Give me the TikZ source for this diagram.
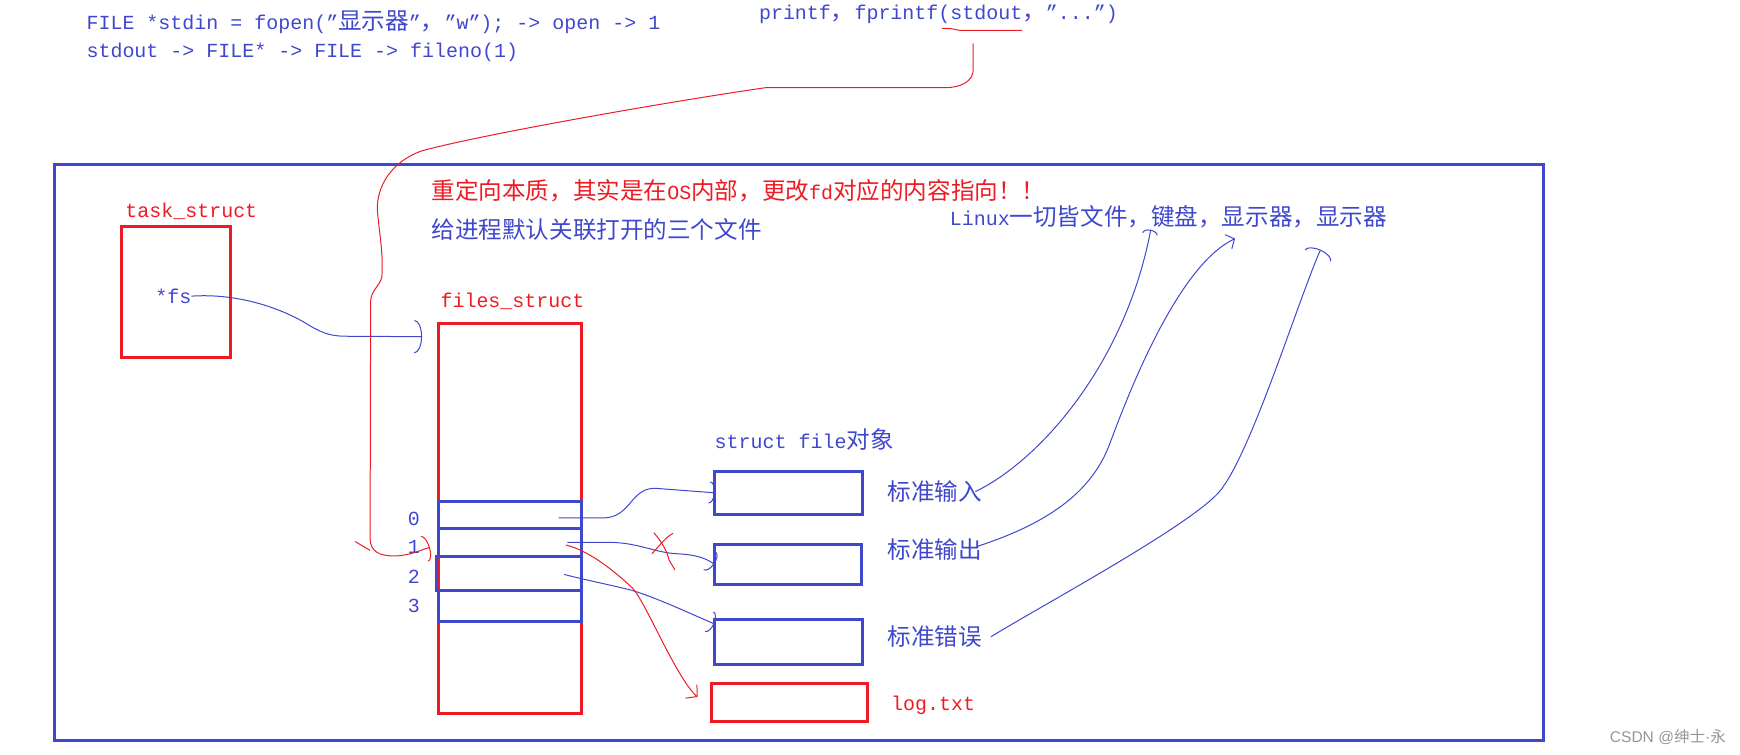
\documentclass[tikz,border=0pt]{standalone}
\usepackage{fontspec}
\setmainfont{Liberation Mono}
\newfontfamily\cjk[Scale=1.18]{Noto Sans CJK SC}
\newfontfamily\wmfont{Noto Sans CJK SC}
\newfontfamily\wmlatin{Liberation Sans}
\definecolor{paintblue}{RGB}{63,72,204}
\definecolor{paintred}{RGB}{237,28,36}
\definecolor{wmgray}{RGB}{150,150,150}
\usetikzlibrary{arrows.meta,calc}

\begin{document}
\begin{tikzpicture}[x=1pt,y=-1pt,
  every node/.style={inner sep=0pt, outer sep=0pt, font=\fontsize{18pt}{21pt}\selectfont},
  bluetxt/.style={text=paintblue},
  redtxt/.style={text=paintred},
  bluebox/.style={draw=paintblue, line width=2.7pt},
  redbox/.style={draw=paintred, line width=2.7pt},
  blueline/.style={draw=paintblue, line width=0.9pt},
  redline/.style={draw=paintred, line width=0.9pt}]
  \useasboundingbox (0,0) rectangle (1568,680);

  % Notes above the frame
  \node[bluetxt, anchor=base west] (fopen) at (78,26.4) {FILE *stdin = fopen("{\cjk 显示器}"{\cjk ，}"w"); -> open -> 1};
  \node[bluetxt, anchor=base west] (chain) at (78,51.7) {stdout -> FILE* -> FILE -> fileno(1)};
  \node[bluetxt, anchor=base west] (printf) at (684,17.5) {printf{\cjk ，}fprintf(stdout{\cjk ，}"...")};
  \draw[redline] (849,25.6) -- (857,25.8) -- (865,27.4) -- (921,27.4);
  \coordinate (uline) at (877,39);

  % Outer frame and headings
  \draw[bluebox] (49,148) rectangle (1391,667);
  \node[redtxt, anchor=base west] (redir) at (389,180) {{\cjk 重定向本质，其实是在}OS{\cjk 内部，更改}fd{\cjk 对应的内容指向！！}};
  \node[bluetxt, anchor=base west] (deflt) at (389,215) {\cjk 给进程默认关联打开的三个文件};
  \node[bluetxt, anchor=base west] (linux) at (856,203) {Linux{\cjk 一切皆文件，键盘，显示器，显示器}};
  \coordinate (kbd) at (1037,207);
  \coordinate (disp1) at (1113,215);
  \coordinate (disp2) at (1190,225);

  % task_struct
  \node[redtxt, anchor=base west] (tasklbl) at (113,195.8) {task\_struct};
  \node[redbox, minimum width=98pt, minimum height=118pt] (task) at (158.8,263.3) {};
  \node[bluetxt, anchor=base west] (fsptr) at (140,273.3) {*fs};

  % files_struct and the fd array
  \node[redtxt, anchor=base west] (fileslbl) at (397,277.3) {files\_struct};
  \node[redbox, minimum width=129pt, minimum height=351.4pt] (files) at (459.85,467.1) {};
  \node[bluebox, minimum width=129pt, minimum height=24.5pt] (slot0) at (459.85,463.75) {};
  \node[bluebox, minimum width=129pt, minimum height=25.6pt] (slot1) at (459.85,488.8) {};
  \node[bluebox, minimum width=131pt, minimum height=30.1pt] (slot2) at (458.9,516.65) {};
  \node[bluebox, minimum width=129pt, minimum height=28.3pt] (slot3) at (459.85,545.85) {};
  \node[bluetxt] (fd0) at (373,467.7) {0};
  \node[bluetxt] (fd1) at (373,493.2) {1};
  \node[bluetxt] (fd2) at (373,519.7) {2};
  \node[bluetxt] (fd3) at (373,545.8) {3};

  % struct file objects
  \node[bluetxt, anchor=base west] (sflbl) at (644,404) {struct file{\cjk 对象}};
  \node[bluebox, minimum width=132.9pt, minimum height=38.2pt] (fileA) at (710.75,444.1) {};
  \node[bluebox, minimum width=132.4pt, minimum height=35.8pt] (fileB) at (709.9,508.4) {};
  \node[bluebox, minimum width=133.8pt, minimum height=39.7pt] (fileC) at (710.6,578.55) {};
  \node[redbox, minimum width=140pt, minimum height=34.5pt] (logbox) at (711.6,633.05) {};
  \node[bluetxt, anchor=west] (lblin) at (800,443) {\cjk 标准输入};
  \node[bluetxt, anchor=west] (lblout) at (800,495.6) {\cjk 标准输出};
  \node[bluetxt, anchor=west] (lblerr) at (800,573.8) {\cjk 标准错误};
  \node[redtxt, anchor=base west] (loglbl) at (803,640) {log.txt};

  % pointers
  \draw[blueline, -{Arc Barb[length=7pt,width=30pt]}] (fsptr.east)
    .. controls (215,264) and (255,278) .. (280,294)
    .. controls (292,301) and (300,303) .. (312,303)
    -- ([xshift=-15pt,yshift=-12pt]files.north west);
  \draw[blueline, -{Arc Barb[length=5pt,width=20pt]}] ([xshift=-21pt,yshift=-3pt]slot0.east)
    -- ++(40,0) .. controls +(25,0) and +(-22,0) .. (590,440) -- (fileA.west);
  \draw[blueline, -{Arc Barb[length=5pt,width=20pt]}] ([xshift=-13pt]slot1.east)
    -- (549.5,488.7) .. controls (575,489) and (590,498) .. (610,499)
    .. controls (628,500) and (636,503) .. (fileB.west);
  \draw[blueline, -{Arc Barb[length=5pt,width=20pt]}] ([xshift=-16pt,yshift=-1pt]slot2.east)
    .. controls (525,522) and (545,526) .. (568.5,531.7)
    .. controls (590,538) and (620,552) .. ([yshift=-3.5pt]fileC.north west);

  % redirection of fd 1 to log.txt
  \draw[redline, -{Straight Barb[length=7pt,width=16pt]}] ([xshift=-14.5pt,yshift=-2.3pt]slot1.east)
    .. controls (530,496) and (552,513) .. (570,530)
    .. controls (581,541) and (610,612) .. ([xshift=-13pt,yshift=5pt]logbox.west);
  \draw[redline] (587.5,499) .. controls (594,492) and (600,484) .. (606.5,480.6);
  \draw[redline] (589.2,480) .. controls (596,488) and (601,496) .. (602.9,504.6) -- (608.2,513.6);

  % stdout underline down to fd 1
  \draw[redline, -{Arc Barb[length=5pt,width=24pt]}] (uline) -- (877,63)
    .. controls (877,73) and (866,79) .. (852,79) -- (690,79)
    .. controls (600,92) and (430,122) .. (380,136)
    .. controls (352,146) and (340,168) .. (340,188)
    .. controls (341,205) and (346,230) .. (344,250)
    .. controls (342,258) and (334,262) .. (334,272)
    -- (333.5,486)
    .. controls (334,497) and (342,501) .. (355,501)
    .. controls (368,501) and (378,496) .. ([xshift=9pt]fd1.east);
  \draw[redline] (320,488) -- (333.5,496);

  % standard streams to devices
  \draw[blueline, -{Arc Barb[length=4pt,width=14pt]}] ([xshift=-6pt]lblin.east)
    .. controls +(58,-28) and +(-23,121) .. (kbd);
  \draw[blueline, -{Straight Barb[length=6pt,width=14pt]}] ([xshift=-5pt,yshift=3pt]lblout.east)
    .. controls (950,470) and (985,440) .. (1000,400)
    .. controls (1015,360) and (1060,240) .. (disp1);
  \draw[blueline, -{Arc Barb[length=6pt,width=26pt]}] ([xshift=8pt]lblerr.east)
    .. controls (940,545) and (1070,475) .. (1098,444)
    .. controls (1126,413) and (1170,270) .. (disp2);

  % watermark
  \node[font=\fontsize{14pt}{16pt}\selectfont, text=wmgray] (csdn) at (1503,664) {{\wmlatin CSDN @}{\wmfont 绅士}{\wmlatin ·}{\wmfont 永}};
\end{tikzpicture}
\end{document}
